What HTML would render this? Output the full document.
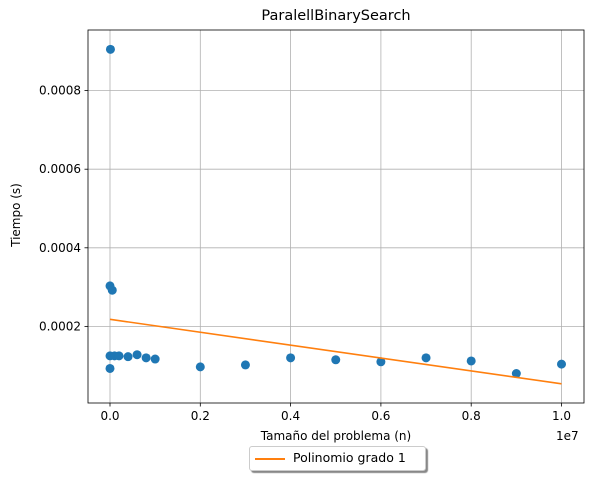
<!DOCTYPE html>
<html><head><meta charset="utf-8"><style>
body{margin:0;background:#fff;}
svg{display:block;font-family:"DejaVu Sans","Liberation Sans",sans-serif;}
</style></head><body>
<svg id="c" width="597" height="480"></svg>
<script>
const xVals=[0,0,0,50000,100000,200000,400000,600000,800000,1000000,2000000,3000000,4000000,5000000,6000000,7000000,8000000,9000000,10000000,10000];
const yVals=[0.000093,0.000125,0.000303,0.000292,0.000125,0.000125,0.000123,0.000128,0.00012,0.000117,0.000097,0.000102,0.00012,0.000115,0.00011,0.00012,0.000112,0.00008,0.000104,0.000905];
const fitX=[0,10000000];
const fitY=[0.000218,0.000054];
const xTicks=[0,2000000,4000000,6000000,8000000,10000000];
const xTickLabels=["0.0","0.2","0.4","0.6","0.8","1.0"];
const yTicks=[0.0002,0.0004,0.0006,0.0008];
const yTickLabels=["0.0002","0.0004","0.0006","0.0008"];

const L=88,R=584,T=30,B=403;
const sx=v=>110+v/10000000*451.5;
const sy=v=>405-v*393000;
const svg=document.getElementById('c');
const NS='http://www.w3.org/2000/svg';
function mk(t,a){const e=document.createElementNS(NS,t);for(const k in a)e.setAttribute(k,a[k]);svg.appendChild(e);return e;}
// grid
xTicks.forEach((t,i)=>{
 const g=mk('line',{x1:sx(t),x2:sx(t),y1:T,y2:B,stroke:'#b0b0b0','stroke-width':0.8});
 
 
 const tk=mk('line',{x1:sx(t),x2:sx(t),y1:B,y2:B+3.5,stroke:'#000','stroke-width':0.8});
 
 
 const tx=mk('text',{x:sx(t),y:B+17,'text-anchor':'middle','font-size':12});
 tx.textContent=xTickLabels[i];
 
 
});
yTicks.forEach((t,i)=>{
 const g=mk('line',{x1:L,x2:R,y1:sy(t),y2:sy(t),stroke:'#b0b0b0','stroke-width':0.8});
 
 
 const tk=mk('line',{x1:L-3.5,x2:L,y1:sy(t),y2:sy(t),stroke:'#000','stroke-width':0.8});
 
 
 const tx=mk('text',{x:L-7,y:sy(t)+4,'text-anchor':'end','font-size':12});
 tx.textContent=yTickLabels[i];
 
 
});
// points
xVals.forEach((x,i)=>{
 const c=mk('circle',{cx:sx(x),cy:sy(yVals[i]),r:4.5,fill:'#1f77b4'});
 
 
});
// fit
const fl=mk('line',{x1:sx(fitX[0]),y1:sy(fitY[0]),x2:sx(fitX[1]),y2:sy(fitY[1]),stroke:'#ff7f0e','stroke-width':1.6});


// frame
const fr=mk('rect',{x:L,y:T,width:R-L,height:B-T,fill:'none',stroke:'#000','stroke-width':0.8});


</script>
<svg width="0" height="0"></svg>
<div style="position:absolute;left:0;top:0;width:597px;height:480px;pointer-events:none;font-family:'DejaVu Sans','Liberation Sans',sans-serif;">
<div style="position:absolute;left:88px;width:496px;top:8px;text-align:center;font-size:14.5px;">ParalellBinarySearch</div>
<div style="position:absolute;left:88px;width:496px;top:429px;text-align:center;font-size:12px;">Tamaño del problema (n)</div>
<div style="position:absolute;left:556px;top:429px;font-size:12px;">1e7</div>
<div style="position:absolute;left:-24px;top:208px;width:80px;text-align:center;font-size:12px;transform:rotate(-90deg);">Tiempo (s)</div>
<div style="position:absolute;left:249px;top:446px;width:175px;height:23px;border:1px solid #ccc;border-radius:3px;background:#fff;box-shadow:2px 2px 1px #888;">
<div style="position:absolute;left:5px;top:11px;width:30px;height:2px;background:#ff7f0e;"></div>
<div style="position:absolute;left:43px;top:3px;font-size:12.5px;">Polinomio grado 1</div>
</div>
</div>
</body></html>
